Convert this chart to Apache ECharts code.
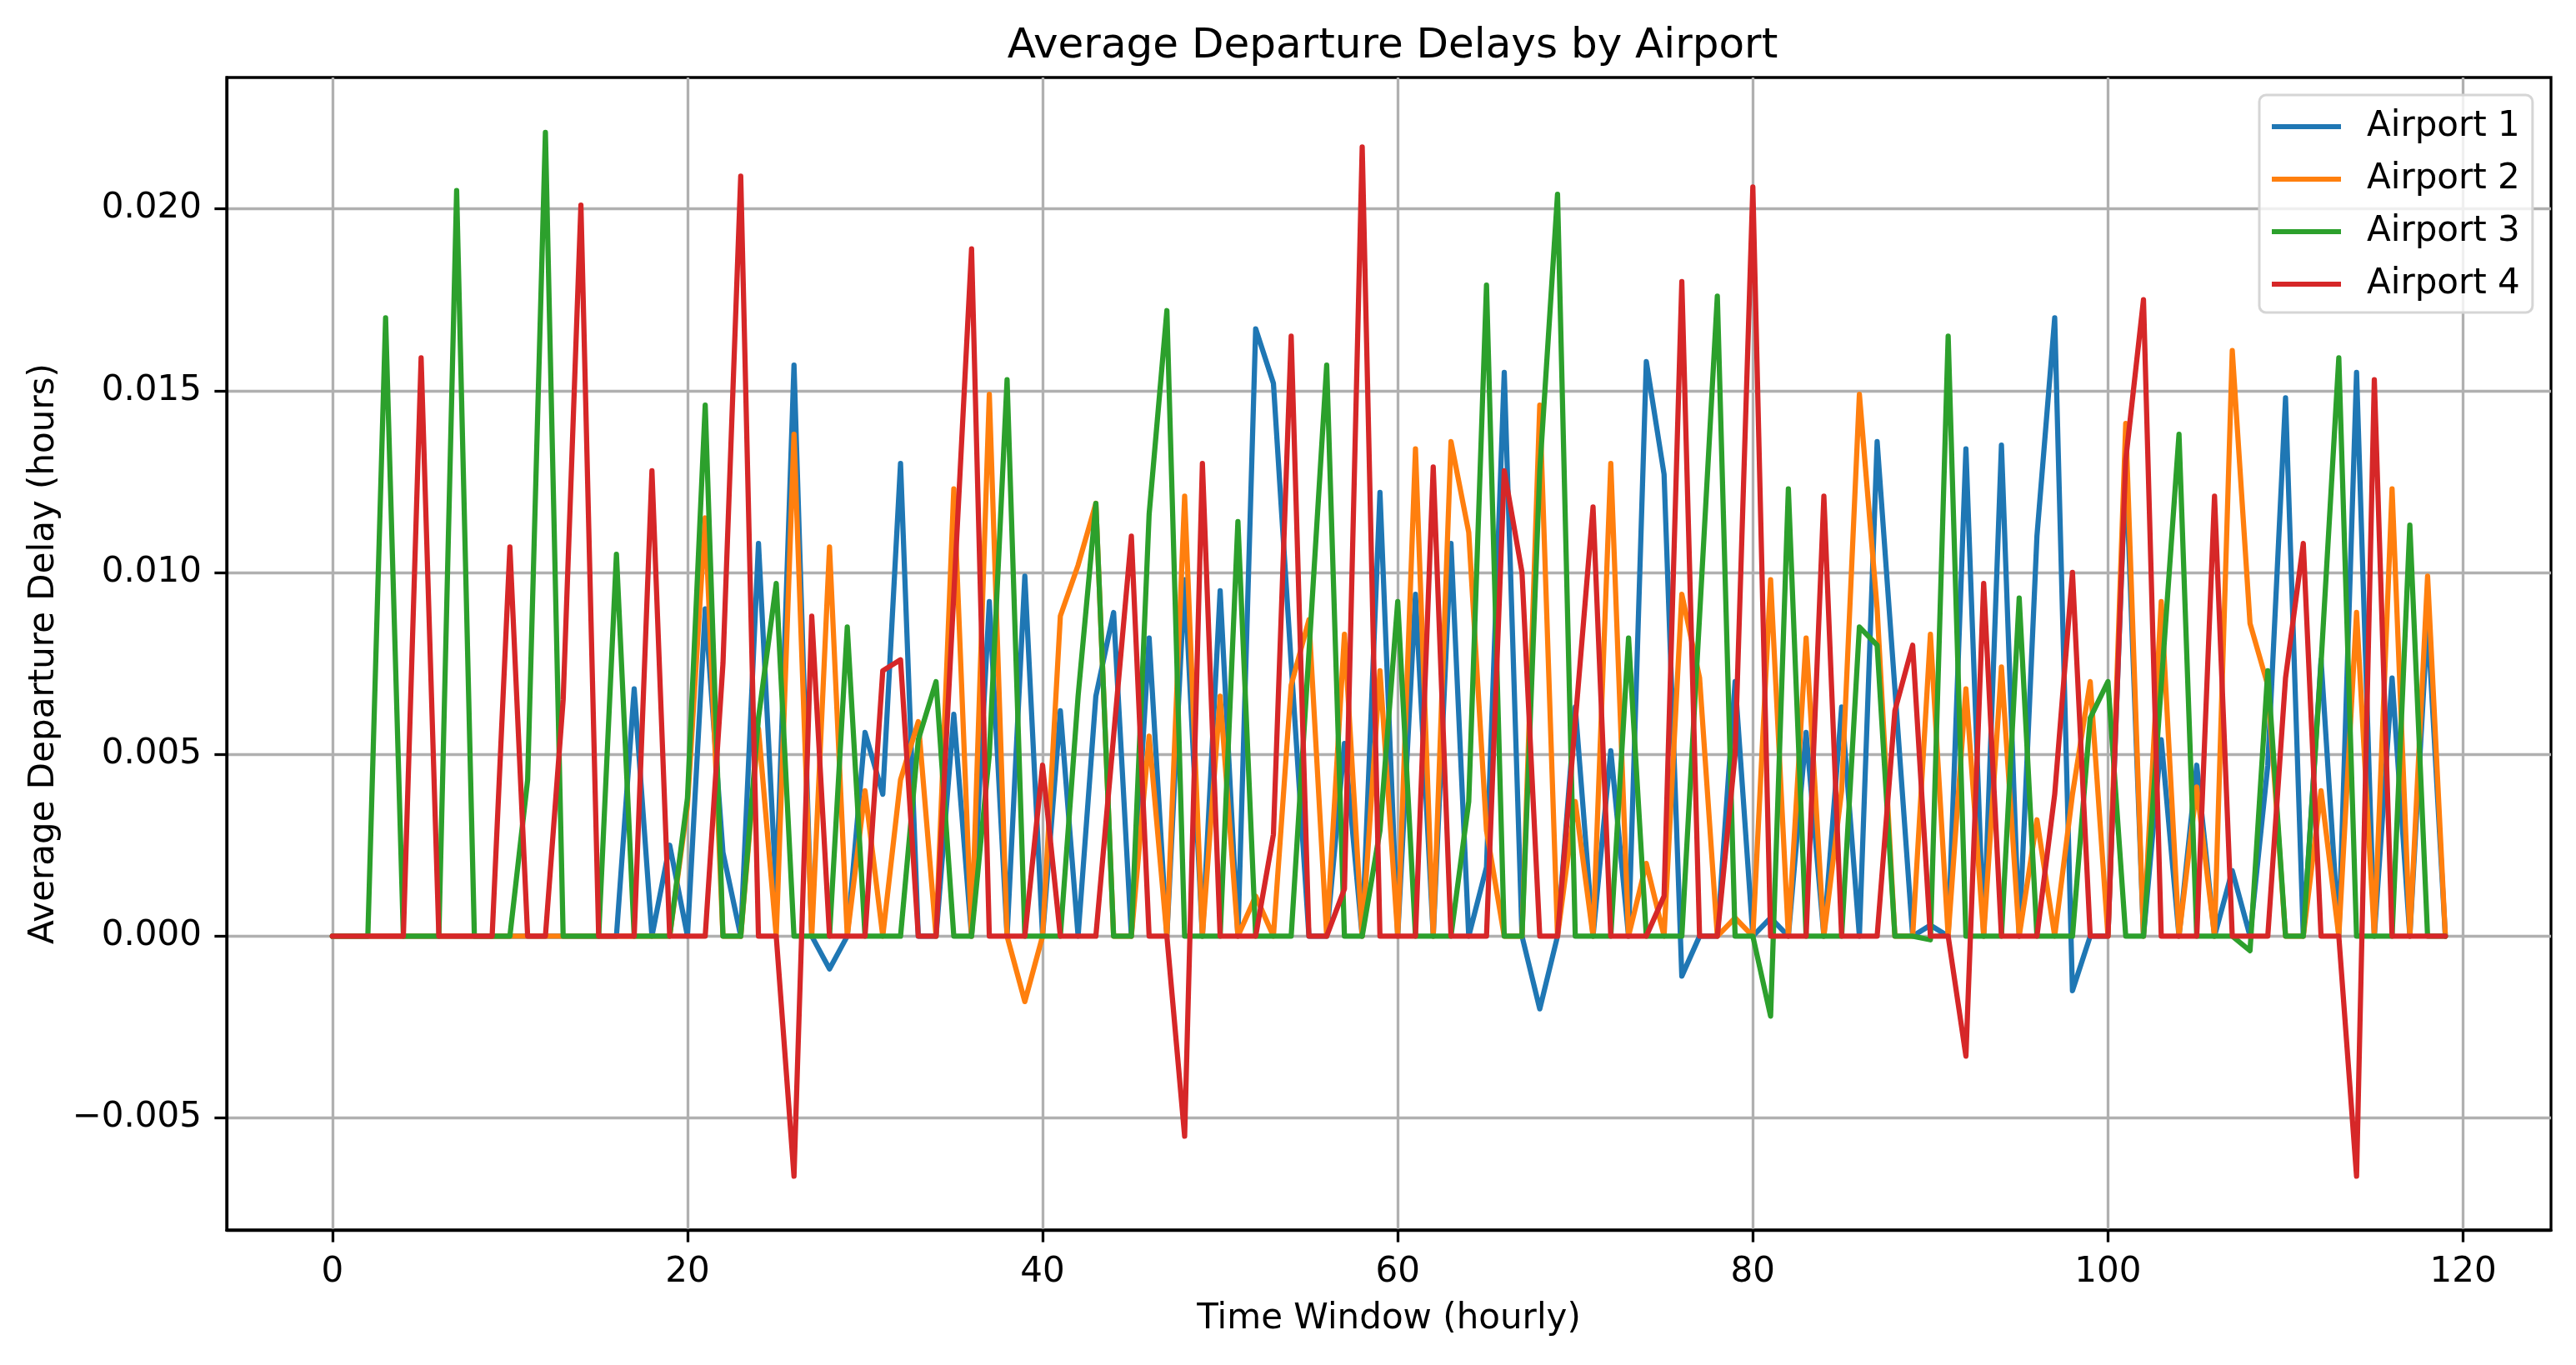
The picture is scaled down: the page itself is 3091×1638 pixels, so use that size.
<!DOCTYPE html>
<html>
<head>
<meta charset="utf-8">
<script src="https://cdn.jsdelivr.net/npm/echarts@6/dist/echarts.min.js"></script>
<style>
    body { margin: 0; background: #fff; }
</style>
</head>
<body>

<div id="main" style="width: 3091px;height:1638px;"></div>

<script type="text/javascript">
    // series values, one per hour 0..119
    var airport1 = [
        0, 0, 0, 0, 0, 0, 0, 0, 0, 0, 0, 0, 0, 0, 0, 0, 0, 0.0068, 0, 0.0025,
        0, 0.0090, 0.0023, 0, 0.0108, 0.0012, 0.0157, 0, -0.0009, 0, 0.0056, 0.0039, 0.0130, 0, 0, 0.0061, 0, 0.0092, 0, 0.0099,
        0, 0.0062, 0, 0.0066, 0.0089, 0, 0.0082, 0, 0.0098, 0, 0.0095, 0, 0.0167, 0.0152, 0.0075, 0, 0, 0.0053, 0, 0.0122,
        0, 0.0094, 0, 0.0108, 0, 0.0019, 0.0155, 0, -0.0020, 0, 0.0063, 0, 0.0051, 0, 0.0158, 0.0127, -0.0011, 0, 0, 0.0070,
        0, 0.0005, 0, 0.0056, 0, 0.0063, 0, 0.0136, 0.0068, 0, 0.0003, 0, 0.0134, 0, 0.0135, 0, 0.0110, 0.0170, -0.0015, 0,
        0, 0.0130, 0, 0.0054, 0, 0.0047, 0, 0.0018, 0, 0.0047, 0.0148, 0, 0.0076, 0, 0.0155, 0, 0.0071, 0, 0.0087, 0
    ];
    var airport2 = [
        0, 0, 0, 0, 0, 0, 0, 0, 0, 0, 0, 0, 0, 0, 0, 0, 0, 0, 0, 0,
        0.0036, 0.0115, 0, 0, 0.0057, 0, 0.0138, 0, 0.0107, 0, 0.0040, 0, 0.0043, 0.0059, 0, 0.0123, 0, 0.0149, 0, -0.0018,
        0, 0.0088, 0.0102, 0.0119, 0, 0, 0.0055, 0, 0.0121, 0, 0.0066, 0, 0.0011, 0, 0.0069, 0.0087, 0, 0.0083, 0, 0.0073,
        0, 0.0134, 0, 0.0136, 0.0111, 0.0029, 0, 0, 0.0146, 0, 0.0037, 0, 0.0130, 0, 0.0020, 0, 0.0094, 0.0071, 0, 0.0005,
        0, 0.0098, 0, 0.0082, 0, 0.0040, 0.0149, 0.0090, 0, 0, 0.0083, 0, 0.0068, 0, 0.0074, 0, 0.0032, 0, 0.0039, 0.0070,
        0, 0.0141, 0, 0.0092, 0, 0.0041, 0, 0.0161, 0.0086, 0.0069, 0, 0, 0.0040, 0, 0.0089, 0, 0.0123, 0, 0.0099, 0
    ];
    var airport3 = [
        0, 0, 0, 0.0170, 0, 0, 0, 0.0205, 0, 0, 0, 0.0043, 0.0221, 0, 0, 0, 0.0105, 0, 0, 0,
        0.0038, 0.0146, 0, 0, 0.0060, 0.0097, 0, 0, 0, 0.0085, 0, 0, 0, 0.0054, 0.0070, 0, 0, 0.0050, 0.0153, 0,
        0, 0, 0.0066, 0.0119, 0, 0, 0.0116, 0.0172, 0, 0, 0, 0.0114, 0, 0, 0, 0.0078, 0.0157, 0, 0, 0.0029,
        0.0092, 0, 0, 0, 0.0037, 0.0179, 0, 0, 0.0128, 0.0204, 0, 0, 0, 0.0082, 0, 0, 0, 0.0088, 0.0176, 0,
        0, -0.0022, 0.0123, 0, 0, 0, 0.0085, 0.0080, 0, 0, -0.0001, 0.0165, 0, 0, 0, 0.0093, 0, 0, 0, 0.0060,
        0.0070, 0, 0, 0.0069, 0.0138, 0, 0, 0, -0.0004, 0.0073, 0, 0, 0.0075, 0.0159, 0, 0, 0, 0.0113, 0, 0
    ];
    var airport4 = [
        0, 0, 0, 0, 0, 0.0159, 0, 0, 0, 0, 0.0107, 0, 0, 0.0065, 0.0201, 0, 0, 0, 0.0128, 0,
        0, 0, 0.0075, 0.0209, 0, 0, -0.0066, 0.0088, 0, 0, 0, 0.0073, 0.0076, 0, 0, 0.0094, 0.0189, 0, 0, 0,
        0.0047, 0, 0, 0, 0.0055, 0.0110, 0, 0, -0.0055, 0.0130, 0, 0, 0, 0.0028, 0.0165, 0, 0, 0.0013, 0.0217, 0,
        0, 0, 0.0129, 0, 0, 0, 0.0128, 0.0100, 0, 0, 0.0059, 0.0118, 0, 0, 0, 0.0011, 0.0180, 0, 0, 0.0050,
        0.0206, 0, 0, 0, 0.0121, 0, 0, 0, 0.0062, 0.0080, 0, 0, -0.0033, 0.0097, 0, 0, 0, 0.0039, 0.0100, 0,
        0, 0.0131, 0.0175, 0, 0, 0, 0.0121, 0, 0, 0, 0.0071, 0.0108, 0, 0, -0.0066, 0.0153, 0, 0, 0, 0
    ];

    var airportNames = ['Airport 1', 'Airport 2', 'Airport 3', 'Airport 4'];
    var airportColors = ['#1f77b4', '#ff7f0e', '#2ca02c', '#d62728'];
    var xTicks = [0, 20, 40, 60, 80, 100, 120];
    var yTicks = [-0.005, 0, 0.005, 0.010, 0.015, 0.020];

    function toPoints(values) {
        return values.map(function (v, i) { return [i, v]; });
    }

    var font = 'DejaVu Sans';
    var myChart = echarts.init(document.getElementById('main'));

    var allSeries = [airport1, airport2, airport3, airport4].map(function (vals, k) {
        return {
            name: airportNames[k],
            type: 'line',
            data: toPoints(vals),
            symbol: 'none',
            showSymbol: false,
            color: airportColors[k],
            lineStyle: {width: 6.25, color: airportColors[k], cap: 'round', join: 'round'}
        };
    });

    var option = {
        animation: false,
        backgroundColor: '#fff',
        title: {
            text: 'Average Departure Delays by Airport',
            left: 1666,
            top: 26,
            textAlign: 'center',
            textStyle: {fontFamily: font, fontSize: 50, fontWeight: 'normal', color: '#000'}
        },
        legend: {
            data: airportNames,
            orient: 'vertical',
            left: 2711,
            top: 114,
            padding: [17, 15, 13, 15],
            icon: 'rect',
            itemWidth: 83,
            itemHeight: 6,
            itemGap: 21,
            backgroundColor: 'rgba(255,255,255,0.8)',
            borderColor: '#d5d5d5',
            borderWidth: 3,
            borderRadius: 8,
            textStyle: {fontFamily: font, fontSize: 42, color: '#000', lineHeight: 42, padding: [0, 0, 0, 26]}
        },
        grid: {
            left: 272,
            right: 30,
            top: 93,
            bottom: 162,
            show: true,
            borderColor: '#000',
            borderWidth: 3.3,
            backgroundColor: '#fff'
        },
        xAxis: {
            type: 'value',
            min: -5.95,
            max: 124.95,
            name: 'Time Window (hourly)',
            nameLocation: 'middle',
            nameGap: 86,
            nameTextStyle: {fontFamily: font, fontSize: 42, color: '#000'},
            axisLine: {show: true, onZero: false, lineStyle: {color: '#000', width: 3.3}},
            axisTick: {show: true, length: 14.6, lineStyle: {color: '#000', width: 3.3}, customValues: xTicks},
            axisLabel: {fontFamily: font, fontSize: 42, color: '#000', margin: 30, customValues: xTicks},
            splitLine: {show: true, lineStyle: {color: '#b0b0b0', width: 3.3}}
        },
        yAxis: {
            type: 'value',
            min: -0.00808,
            max: 0.02361,
            name: 'Average Departure Delay (hours)',
            nameLocation: 'middle',
            nameGap: 198,
            nameTextStyle: {fontFamily: font, fontSize: 42, color: '#000'},
            axisLine: {show: true, onZero: false, lineStyle: {color: '#000', width: 3.3}},
            axisTick: {show: true, length: 14.6, lineStyle: {color: '#000', width: 3.3}, customValues: yTicks},
            axisLabel: {
                fontFamily: font, fontSize: 42, color: '#000', margin: 30,
                customValues: yTicks,
                formatter: function (v) {
                    var s = Math.abs(v).toFixed(3);
                    return v < -1e-9 ? '\u2212' + s : s;
                }
            },
            splitLine: {show: true, lineStyle: {color: '#b0b0b0', width: 3.3}}
        },
        series: allSeries
    };

    myChart.setOption(option);
</script>
</body>
</html>
